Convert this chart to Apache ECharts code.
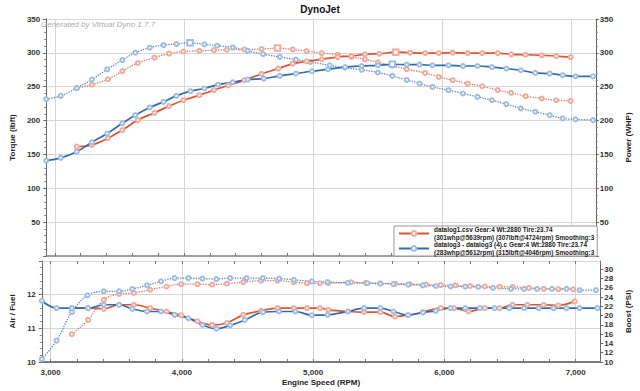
<!DOCTYPE html>
<html><head><meta charset="utf-8">
<script src="https://cdn.jsdelivr.net/npm/echarts@6/dist/echarts.min.js"></script>
<style>html,body{margin:0;padding:0;background:#fff}#c{width:640px;height:391px}</style>
</head><body><div id="c"></div>
<script>
// ---------- DATA ----------
const runNames = ['datalog1.csv Gear:4 Wt:2880 Tire:23.74', 'datalog3 - datalog3 (4).c Gear:4 Wt:2880 Tire:23.74'];
const runInfo = ['(301whp@5639rpm) (307lbft@4724rpm) Smoothing:3', '(283whp@5612rpm) (315lbft@4046rpm) Smoothing:3'];
const watermark = 'Generated by Virtual Dyno 1.7.7';

// run 1 (red) torque (lbft)
const r1TqRpm = [3169,3286,3410,3522,3642,3771,3883,3995,4119,4231,4331,4468,4600,4724,4841,4948,5065,5189,5296,5400,5500,5612,5724,5866,5972,6080,6196,6308,6428,6532,6644,6769,6881,6993];
const r1Tq    = [248,253,261,273,285,293,299,302,303,304,304.5,305,305.6,307,305,302.7,299.7,297.3,294,290.5,286,281,276,270.3,264.4,259.6,254.7,250.7,245,241,236,232.6,230,229];
// run 1 (red) power (whp)
const r1HpRpm = [3169,3286,3410,3522,3642,3771,3883,3995,4119,4231,4343,4468,4600,4729,4841,4948,5065,5189,5296,5400,5512,5639,5749,5866,5972,6080,6196,6308,6428,6532,6644,6769,6881,6993];
const r1Hp    = [161.5,164,174,186,200.7,211.5,221.3,230,237.5,245,252,259.6,269,276.8,284,287.5,290.5,293.8,295.3,297.8,298.8,301,300.3,299.7,299.7,300.3,299.7,299.7,299.7,297.8,297.3,296.3,295.3,293.8];
// run 2 (blue) torque (lbft)
const r2TqRpm = [2933,3045,3169,3286,3405,3522,3622,3734,3841,3940,4046,4157,4256,4376,4493,4612,4741,4866,4978,5127,5246,5375,5500,5612,5724,5823,5923,6047,6159,6271,6383,6495,6607,6719,6831,6930,7030,7166];
const r2Tq    = [231.6,236.5,248,260.6,275.7,289.4,300.3,307.6,311.5,313,315,312.5,310.6,308,303,298,294,290,286.5,281.6,278,275,271,266,260,254.7,249.7,244.9,240,235,230,224.3,218,213,208,203.2,201.8,200.7];
// run 2 (blue) power (whp)
const r2HpRpm = [2933,3045,3169,3286,3405,3522,3622,3734,3841,3940,4050,4157,4263,4376,4493,4617,4741,4866,4990,5114,5246,5375,5500,5612,5724,5823,5923,6047,6159,6271,6383,6495,6607,6719,6831,6930,7030,7166];
const r2Hp    = [140.9,145,154,168,181,196,208,219.4,227.6,236.5,243.4,247.4,253,256.5,260.6,262,266,269.4,272.8,275.7,279,280.6,281.6,283,282.6,282.6,281.6,281.6,280.6,280.6,279,276.8,274.3,270.3,269.4,267,265.4,265.4];

// run 1 (red) air/fuel
const r1AfRpm = [3162,3286,3405,3522,3634,3759,3883,3995,4119,4231,4343,4468,4604,4729,4853,4953,5052,5115,5264,5388,5512,5624,5724,5836,5972,6072,6184,6308,6420,6520,6632,6756,6868,6993];
const r1Af    = [11.6,11.6,11.58,11.7,11.7,11.6,11.5,11.39,11.21,11.1,11.16,11.4,11.52,11.6,11.6,11.6,11.6,11.55,11.5,11.48,11.48,11.35,11.39,11.48,11.6,11.6,11.5,11.6,11.6,11.7,11.7,11.7,11.68,11.8];
// run 1 (red) boost (psi)
const r1BstRpm = [3162,3286,3405,3522,3634,3759,3883,3995,4119,4231,4343,4468,4604,4729,4853,4953,5052,5115,5289,5400,5512,5624,5736,5860,5972,6084,6196,6308,6420,6520,6644,6756,6868,6980];
const r1Bst    = [16.0,19.1,23.4,24.7,24.9,25.6,26.3,26.8,26.8,26.7,26.9,27.25,27.55,27.55,27.25,27.0,27.0,27.0,27.2,27.1,27.0,26.9,26.8,26.7,26.6,26.55,26.4,26.3,26.25,26.2,26.0,25.8,25.75,25.7];
// run 2 (blue) air/fuel
const r2AfRpm = [2933,3045,3162,3286,3405,3522,3622,3734,3841,3945,4050,4157,4263,4368,4480,4617,4741,4866,4990,5110,5264,5388,5512,5612,5724,5836,5935,6047,6159,6271,6383,6495,6607,6719,6831,6930,7030,7166];
const r2Af    = [11.82,11.6,11.6,11.6,11.7,11.7,11.58,11.5,11.5,11.4,11.3,11.1,10.99,11.09,11.25,11.48,11.5,11.5,11.39,11.4,11.5,11.6,11.6,11.5,11.39,11.47,11.52,11.6,11.6,11.6,11.6,11.6,11.6,11.6,11.6,11.6,11.6,11.6];
// run 2 (blue) boost (psi)
const r2BstRpm = [2933,3045,3162,3281,3405,3522,3622,3734,3841,3945,4050,4157,4263,4368,4493,4617,4741,4853,4990,5110,5264,5413,5512,5612,5724,5836,5935,6047,6159,6258,6370,6507,6607,6706,6819,6930,7030,7154];
const r2Bst    = [10.6,14.6,20.8,24.4,25.25,25.25,25.75,26.55,27.4,28.1,28.1,28.0,27.9,28.1,28.1,28.1,28.0,27.75,27.4,27.25,27.1,27.0,26.9,26.8,26.7,26.55,26.4,26.3,26.25,26.2,26.0,25.8,25.8,25.8,25.8,25.8,25.5,25.5];

// ---------- STYLE ----------
const FONT = '"Liberation Sans", Arial, sans-serif';
const RPM_MIN = 2933, RPM_MAX = 7187;
const RED = '#e0552d', RED_DOT = '#e6735f', RED_MK = '#f2aa9c';
const BLUE = '#2f6db3', BLUE_DOT = '#5585c4', BLUE_MK = '#9dbde2';
const GRID_C = '#d6d6d6';
const lbl = {fontSize: 8, fontWeight: 'bold', color: '#333', fontFamily: FONT};
const nameStyle = {fontSize: 8, fontWeight: 'bold', color: '#222', fontFamily: FONT};

function pairs(xs, ys, peak) {
  let mi = -1;
  if (peak) { let m = -Infinity; ys.forEach((v, i) => { if (v > m) { m = v; mi = i; } }); }
  return xs.map((x, i) => i === mi
    ? {value: [x, ys[i]], symbol: 'emptyRect', symbolSize: 5.5}
    : [x, ys[i]]);
}
function line(name, xi, yi, data, color, mk, dotted, z) {
  return {
    name, type: 'line', xAxisIndex: xi, yAxisIndex: yi, data,
    smooth: 0.35, symbol: 'emptyCircle', symbolSize: 4, showSymbol: true,
    lineStyle: {color, width: dotted ? 1.3 : 1.7, type: dotted ? 'dotted' : 'solid'},
    itemStyle: {color: mk, borderWidth: 0.8}, z: z || 2, animation: false
  };
}
function tickAxis(gridIndex, position) {
  return {
    gridIndex, position, type: 'value', min: RPM_MIN, max: RPM_MAX,
    splitNumber: 21, minInterval: 200, maxInterval: 200,
    axisLine: {show: false}, axisLabel: {show: false}, splitLine: {show: false},
    axisTick: {show: true, inside: true, length: 3, lineStyle: {color: '#777'}}
  };
}

const chart = echarts.init(document.getElementById('c'), null, {renderer: 'svg'});
chart.setOption({
  backgroundColor: '#fff',
  animation: false,
  title: {text: 'DynoJet', left: 'center', top: 4, padding: 0,
     textStyle: {fontSize: 10, fontWeight: 'bold', color: '#111', fontFamily: FONT}},
  graphic: [{
    type: 'text', x: 41, y: 20, z: 10, silent: true,
    style: {text: watermark, fill: '#aaa', font: 'italic 8px ' + FONT, textVerticalAlign: 'top'}
  }],
  legend: {
    data: runNames, orient: 'vertical', left: 394, top: 226,
    itemWidth: 30, itemHeight: 6, itemGap: 0, padding: [0, 3, 0, 4],
    borderColor: '#999', borderWidth: 1, borderRadius: 0, backgroundColor: '#fff',
    selectedMode: false,
    textStyle: {fontSize: 6.4, fontWeight: 'bold', color: '#222', lineHeight: 7.5, fontFamily: FONT},
    formatter: n => n + '\n' + runInfo[runNames.indexOf(n)]
  },
  grid: [
    {left: 36, right: 34, top: 19, height: 237},
    {left: 36, right: 34, top: 261, height: 101}
  ],
  xAxis: [
    {gridIndex: 0, type: 'value', position: 'bottom', min: RPM_MIN, max: RPM_MAX,
     splitNumber: 4, minInterval: 1000, maxInterval: 1000,
     axisLabel: {show: false}, axisTick: {show: false},
     axisLine: {show: true, lineStyle: {color: '#a0a0a0', width: 2}},
     splitLine: {show: true, lineStyle: {color: GRID_C}}},
    {gridIndex: 1, type: 'value', position: 'bottom', min: RPM_MIN, max: RPM_MAX,
     splitNumber: 4, minInterval: 1000, maxInterval: 1000,
     axisLabel: Object.assign({margin: 6, showMinLabel: false, showMaxLabel: false}, lbl),
     axisTick: {show: false},
     axisLine: {show: true, lineStyle: {color: '#555', width: 1.5}},
     splitLine: {show: true, lineStyle: {color: GRID_C}},
     name: 'Engine Speed (RPM)', nameLocation: 'middle', nameGap: 16, nameTextStyle: nameStyle},
    tickAxis(0, 'bottom'),
    tickAxis(1, 'bottom'),
    tickAxis(1, 'top')
  ],
  yAxis: [
    {gridIndex: 0, type: 'value', position: 'left', min: 0, max: 350, interval: 50,
     name: 'Torque (lbft)', nameLocation: 'middle', nameGap: 24, nameRotate: 90, nameTextStyle: nameStyle,
     axisLine: {show: true, lineStyle: {color: '#666'}},
     axisTick: {show: true, length: 3, lineStyle: {color: '#666'}},
     minorTick: {show: true, splitNumber: 5, length: 2, lineStyle: {color: '#888'}},
     axisLabel: Object.assign({margin: 6, showMinLabel: false}, lbl),
     splitLine: {show: true, lineStyle: {color: GRID_C}}},
    {gridIndex: 0, type: 'value', position: 'right', min: 0, max: 350, interval: 50,
     name: 'Power (WHP)', nameLocation: 'middle', nameGap: 18, nameRotate: 90, nameTextStyle: nameStyle,
     axisLine: {show: true, lineStyle: {color: '#666'}},
     axisTick: {show: true, length: 3, lineStyle: {color: '#666'}},
     minorTick: {show: true, splitNumber: 5, length: 2, lineStyle: {color: '#888'}},
     axisLabel: Object.assign({margin: 4, showMinLabel: false}, lbl),
     splitLine: {show: false}},
    {gridIndex: 1, type: 'value', position: 'left', min: 10, max: 13, interval: 1,
     name: 'Air / Fuel', nameLocation: 'middle', nameGap: 24, nameRotate: 90, nameTextStyle: nameStyle,
     axisLine: {show: true, lineStyle: {color: '#666'}},
     axisTick: {show: true, length: 3, lineStyle: {color: '#666'}},
     minorTick: {show: true, splitNumber: 5, length: 2, lineStyle: {color: '#888'}},
     axisLabel: Object.assign({margin: 6, showMaxLabel: false}, lbl),
     splitLine: {show: true, lineStyle: {color: GRID_C}}},
    {gridIndex: 1, type: 'value', position: 'right', min: 10, max: 31.8, interval: 2,
     name: 'Boost (PSI)', nameLocation: 'middle', nameGap: 18, nameRotate: 90, nameTextStyle: nameStyle,
     axisLine: {show: true, lineStyle: {color: '#666'}},
     axisTick: {show: true, length: 3, lineStyle: {color: '#666'}},
     axisLabel: Object.assign({margin: 4, showMaxLabel: false}, lbl),
     splitLine: {show: false}}
  ],
  series: [
    line(runNames[0], 0, 1, pairs(r1HpRpm, r1Hp, true), RED, RED_MK, false, 3),
    line(runNames[1], 0, 1, pairs(r2HpRpm, r2Hp, true), BLUE, BLUE_MK, false, 3),
    line(runNames[0], 0, 0, pairs(r1TqRpm, r1Tq, true), RED_DOT, RED_MK, true),
    line(runNames[1], 0, 0, pairs(r2TqRpm, r2Tq, true), BLUE_DOT, BLUE_MK, true),
    line(runNames[0], 1, 2, pairs(r1AfRpm, r1Af), RED, RED_MK, false, 3),
    line(runNames[1], 1, 2, pairs(r2AfRpm, r2Af), BLUE, BLUE_MK, false, 3),
    line(runNames[0], 1, 3, pairs(r1BstRpm, r1Bst), RED_DOT, RED_MK, true),
    line(runNames[1], 1, 3, pairs(r2BstRpm, r2Bst), BLUE_DOT, BLUE_MK, true)
  ]
});
</script>
</body></html>
